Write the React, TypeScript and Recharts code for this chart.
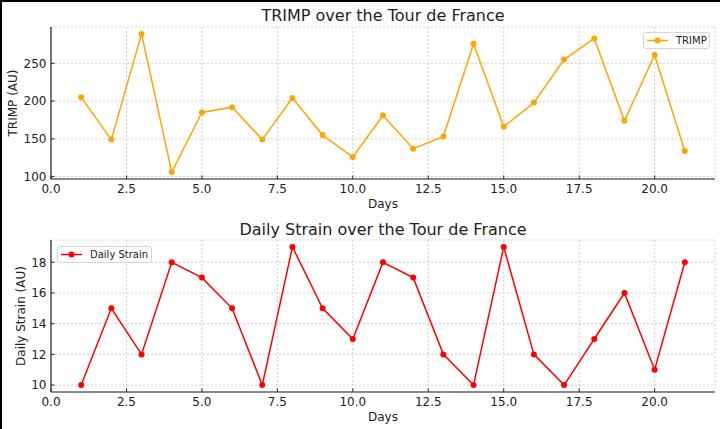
import React from "react";
import { LineChart, Line, XAxis, YAxis, CartesianGrid, Legend } from "recharts";

const days = [1, 2, 3, 4, 5, 6, 7, 8, 9, 10, 11, 12, 13, 14, 15, 16, 17, 18, 19, 20, 21];
const trimp = [205, 149, 289, 106, 185, 192, 149, 204, 155, 126, 181, 137, 153, 276, 166, 198, 255, 283, 174, 261, 134];
const strain = [10, 15, 12, 18, 17, 15, 10, 19, 15, 13, 18, 17, 12, 10, 19, 12, 10, 13, 16, 11, 18];

const xTicks = [0, 2.5, 5, 7.5, 10, 12.5, 15, 17.5, 20];
const trimpTicks = [100, 150, 200, 250];
const strainTicks = [10, 12, 14, 16, 18];

const FONT = "'DejaVu Sans', sans-serif";
const INK = "#222";
const ORANGE = "#ffa500";
const RED = "#ff0000";

const trimpRows = days.map((d, i) => ({ day: d, TRIMP: trimp[i] }));
const strainRows = days.map((d, i) => ({ day: d, "Daily Strain": strain[i] }));

const XTick = (props: any) => {
  const { x, y, payload } = props;
  return (
    <g>
      <line x1={x} x2={x} y1={y} y2={y - 3.5} stroke={INK} strokeWidth={1} />
      <text x={x} y={y + 14} textAnchor="middle" fontSize={12} fontFamily={FONT} fill={INK}>
        {Number(payload.value).toFixed(1)}
      </text>
    </g>
  );
};

const YTick = (props: any) => {
  const { x, y, payload } = props;
  return (
    <g>
      <line x1={x} x2={x + 3.5} y1={y} y2={y} stroke={INK} strokeWidth={1} />
      <text x={x - 4.5} y={y + 4.3} textAnchor="end" fontSize={12} fontFamily={FONT} fill={INK}>
        {String(payload.value)}
      </text>
    </g>
  );
};

const makeLegend = (label: string, color: string, width: number) => () => (
  <div
    style={{
      width,
      height: 17,
      boxSizing: "border-box",
      border: "1px solid #d6d6d6",
      borderRadius: 3,
      background: "rgba(255,255,255,0.85)",
      display: "flex",
      alignItems: "center",
      fontFamily: FONT,
      fontSize: 10,
      color: INK,
    }}
  >
    <svg width={30} height={15} style={{ flex: "none" }}>
      <line x1={3} x2={24} y1={7.5} y2={7.5} stroke={color} strokeWidth={1.5} />
      <circle cx={13.5} cy={7.5} r={3} fill={color} />
    </svg>
    <span style={{ marginLeft: 2, whiteSpace: "nowrap" }}>{label}</span>
  </div>
);

export default function App() {
  return (
    <div style={{ position: "absolute", left: 0, top: 0, width: 720, height: 429, background: "#fff" }}>
      <div style={{ position: "absolute", left: 0, top: 0 }}>
        <LineChart width={720} height={215} data={trimpRows} margin={{ top: 27, right: 5, bottom: 0, left: 0 }}>
          <CartesianGrid stroke="#c4c4c4" strokeDasharray="2 2" strokeWidth={0.8} verticalPoints={undefined} />
          <XAxis
            dataKey="day"
            type="number"
            domain={[0, 22]}
            ticks={xTicks}
            interval={0}
            allowDataOverflow
            height={36}
            tickSize={0}
            tickMargin={0}
            tickLine={false}
            axisLine={{ stroke: INK, strokeWidth: 1.2 }}
            tick={<XTick />}
          />
          <YAxis
            type="number"
            domain={[96.85, 298.15]}
            ticks={trimpTicks}
            interval={0}
            allowDataOverflow
            width={51}
            tickSize={0}
            tickMargin={0}
            tickLine={false}
            axisLine={{ stroke: INK, strokeWidth: 1.2 }}
            tick={<YTick />}
          />
          <Legend
            layout="vertical"
            verticalAlign="middle"
            align="center"
            content={makeLegend("TRIMP", ORANGE, 67)}
            wrapperStyle={{ position: "absolute", left: 643, top: 32, width: 67, height: 17 }}
          />
          <Line
            type="linear"
            dataKey="TRIMP"
            stroke={ORANGE}
            strokeWidth={1.5}
            dot={{ r: 3, fill: ORANGE, stroke: ORANGE, strokeWidth: 0 }}
            isAnimationActive={false}
          />
        </LineChart>
      </div>
      <div style={{ position: "absolute", left: 0, top: 215 }}>
        <LineChart width={720} height={214} data={strainRows} margin={{ top: 25, right: 5, bottom: 0, left: 0 }}>
          <CartesianGrid stroke="#c4c4c4" strokeDasharray="2 2" strokeWidth={0.8} />
          <XAxis
            dataKey="day"
            type="number"
            domain={[0, 22]}
            ticks={xTicks}
            interval={0}
            allowDataOverflow
            height={37}
            tickSize={0}
            tickMargin={0}
            tickLine={false}
            axisLine={{ stroke: INK, strokeWidth: 1.2 }}
            tick={<XTick />}
          />
          <YAxis
            type="number"
            domain={[9.55, 19.45]}
            ticks={strainTicks}
            interval={0}
            allowDataOverflow
            width={51}
            tickSize={0}
            tickMargin={0}
            tickLine={false}
            axisLine={{ stroke: INK, strokeWidth: 1.2 }}
            tick={<YTick />}
          />
          <Legend
            layout="vertical"
            verticalAlign="middle"
            align="center"
            content={makeLegend("Daily Strain", RED, 95)}
            wrapperStyle={{ position: "absolute", left: 57, top: 31, width: 95, height: 17 }}
          />
          <Line
            type="linear"
            dataKey="Daily Strain"
            stroke={RED}
            strokeWidth={1.5}
            dot={{ r: 3, fill: RED, stroke: RED, strokeWidth: 0 }}
            isAnimationActive={false}
          />
        </LineChart>
      </div>
      <svg
        width={720}
        height={429}
        style={{ position: "absolute", left: 0, top: 0, pointerEvents: "none" }}
      >
        <line x1={0} x2={720} y1={1} y2={1} stroke="#000" strokeWidth={2} />
        <line x1={1} x2={1} y1={0} y2={429} stroke="#000" strokeWidth={2} />
        <text x={383} y={21} textAnchor="middle" fontSize={16} fontFamily={FONT} fill={INK}>
          TRIMP over the Tour de France
        </text>
        <text x={383} y={207.5} textAnchor="middle" fontSize={12} fontFamily={FONT} fill={INK}>
          Days
        </text>
        <text
          x={17}
          y={103}
          transform="rotate(-90 17 103)"
          textAnchor="middle"
          fontSize={12}
          fontFamily={FONT}
          fill={INK}
        >
          TRIMP (AU)
        </text>
        <text x={383} y={234.5} textAnchor="middle" fontSize={16} fontFamily={FONT} fill={INK}>
          Daily Strain over the Tour de France
        </text>
        <text x={383} y={421} textAnchor="middle" fontSize={12} fontFamily={FONT} fill={INK}>
          Days
        </text>
        <text
          x={25}
          y={316}
          transform="rotate(-90 25 316)"
          textAnchor="middle"
          fontSize={12}
          fontFamily={FONT}
          fill={INK}
        >
          Daily Strain (AU)
        </text>
      </svg>
    </div>
  );
}
